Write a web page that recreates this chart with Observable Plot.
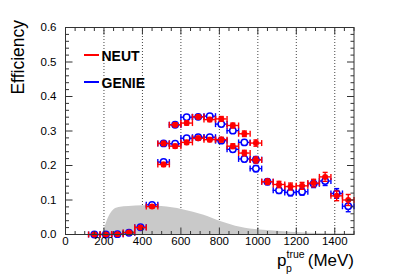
<!DOCTYPE html>
<html><head><meta charset="utf-8">
<script src="https://cdn.jsdelivr.net/npm/d3@7"></script>
<script src="https://cdn.jsdelivr.net/npm/@observablehq/plot@0.6"></script>
<style>
body{margin:0;background:#fff;font-family:"Liberation Sans",Arial,sans-serif}
#chart{width:407px;height:276px}
</style>
</head><body><div id="chart"></div>
<script>
// ---- data ----
const neutX = [150,210,270,330,390,450,510,510,570,570,630,630,690,690,750,750,810,810,870,870,930,930,990,990,1050,1110,1170,1230,1290,1350,1410,1470];
const neutY = [0.000,0.000,0.001,0.006,0.020,0.081,0.264,0.203,0.318,0.256,0.323,0.267,0.341,0.279,0.333,0.275,0.335,0.275,0.316,0.256,0.292,0.236,0.265,0.216,0.153,0.145,0.139,0.141,0.149,0.167,0.112,0.100];
const neutErr = [0.002,0.002,0.002,0.003,0.004,0.005,0.006,0.006,0.006,0.006,0.006,0.006,0.006,0.006,0.006,0.006,0.007,0.007,0.007,0.007,0.008,0.008,0.009,0.009,0.008,0.009,0.010,0.010,0.011,0.013,0.014,0.016];
const genieX = [150,210,270,330,390,450,510,510,570,570,630,630,690,690,750,750,810,810,870,870,930,930,990,990,1050,1110,1170,1230,1290,1350,1410,1470];
const genieY = [0.000,0.000,0.001,0.005,0.021,0.086,0.264,0.210,0.318,0.263,0.340,0.279,0.341,0.282,0.343,0.282,0.320,0.272,0.301,0.247,0.267,0.219,0.217,0.191,0.153,0.128,0.122,0.124,0.147,0.155,0.119,0.082];
const genieErr = [0.002,0.002,0.002,0.003,0.004,0.005,0.006,0.006,0.006,0.006,0.006,0.006,0.006,0.006,0.006,0.006,0.007,0.007,0.007,0.007,0.008,0.008,0.009,0.009,0.008,0.009,0.010,0.010,0.011,0.013,0.014,0.016];
const binHalfWidth = 30;
const fluxX = [185,200,217,243,278,330,400,500,610,720,810,910,1010,1120,1220,1320,1420,1500];
const fluxY = [0,0.012,0.040,0.067,0.078,0.081,0.083,0.081,0.072,0.056,0.037,0.021,0.013,0.009,0.005,0.003,0.002,0.002];
const xTickLabels = [0,200,400,600,800,1000,1200,1400];
const yTickLabels = [0,0.1,0.2,0.3,0.4,0.5,0.6];
const gridX = [200,400,600,800,1000,1200,1400];
const seriesNames = ["NEUT","GENIE"];
const seriesColors = ["#ff0000","#0000ff"];

// ---- build ----
const neut = neutX.map((x,i)=>({x, y:neutY[i], e:neutErr[i]}));
const genie = genieX.map((x,i)=>({x, y:genieY[i], e:genieErr[i]}));
const flux = fluxX.map((x,i)=>({x, y:fluxY[i]}));
const xMinor = d3.range(0,1501,50).filter(v=>v%200!==0);
const yMinor = d3.range(0,31).map(i=>i*0.02).filter((v,i)=>i%5!==0);

const vline = {draw(ctx,size){const h=Math.sqrt(size/Math.PI);ctx.moveTo(0,-h);ctx.lineTo(0,h);}};
const hline = {draw(ctx,size){const h=Math.sqrt(size/Math.PI);ctx.moveTo(-h,0);ctx.lineTo(h,0);}};

function errMarks(data,color){
  const sw=1.4;
  return [
    Plot.ruleY(data,{y:"y",x1:d=>d.x-binHalfWidth,x2:d=>d.x+binHalfWidth,stroke:color,strokeWidth:sw}),
    Plot.ruleX(data,{x:"x",y1:d=>d.y-d.e,y2:d=>d.y+d.e,stroke:color,strokeWidth:sw}),
    Plot.dot(data,{x:d=>d.x-binHalfWidth,y:"y",symbol:vline,r:3,stroke:color,strokeWidth:sw}),
    Plot.dot(data,{x:d=>d.x+binHalfWidth,y:"y",symbol:vline,r:3,stroke:color,strokeWidth:sw}),
    Plot.dot(data,{x:"x",y:d=>d.y+d.e,symbol:hline,r:2.5,stroke:color,strokeWidth:sw}),
    Plot.dot(data,{x:"x",y:d=>d.y-d.e,symbol:hline,r:2.5,stroke:color,strokeWidth:sw})
  ];
}
const axc="#333";
function tickMarks(values,len,which){
  const opt={symbol: which==="x"?vline:hline, r:len/2, stroke:axc, strokeWidth:1};
  if(which==="x") return [
    Plot.dot(values,{...opt,x:d=>d,y:()=>0,dy:-len/2}),
    Plot.dot(values,{...opt,x:d=>d,y:()=>0.6,dy:len/2})
  ];
  return [
    Plot.dot(values,{...opt,y:d=>d,x:()=>0,dx:len/2}),
    Plot.dot(values,{...opt,y:d=>d,x:()=>1500,dx:-len/2})
  ];
}

const plot = Plot.plot({
  width:407, height:276,
  marginLeft:65, marginRight:53.5, marginTop:27, marginBottom:42,
  style:{fontFamily:'"Liberation Sans",Arial,sans-serif',background:"#fff",overflow:"visible"},
  x:{domain:[0,1500]},
  y:{domain:[0,0.6]},
  marks:[
    Plot.ruleX(gridX,{x:d=>d,stroke:"#444",strokeDasharray:"1,2",strokeWidth:1}),
    Plot.areaY(flux,{x:"x",y:"y",fill:"#c9c9c9",curve:"monotone-x"}),
    ...errMarks(genie,seriesColors[1]),
    Plot.dot(genie,{x:"x",y:"y",r:3.2,stroke:seriesColors[1],strokeWidth:1.5,fill:"white"}),
    ...errMarks(neut,seriesColors[0]),
    Plot.dot(neut,{x:"x",y:"y",r:3,fill:seriesColors[0]}),
    Plot.frame({stroke:axc,strokeWidth:1}),
    ...tickMarks(xTickLabels,7,"x"),
    ...tickMarks(xMinor,3.5,"x"),
    ...tickMarks(yTickLabels,7,"y"),
    ...tickMarks(yMinor,3.5,"y"),
    Plot.axisX({ticks:xTickLabels,tickSize:0,tickPadding:2,fontSize:11.5,label:null,tickFormat:d=>String(d),fill:"#000"}),
    Plot.axisY({ticks:yTickLabels,tickSize:0,tickPadding:9,fontSize:11.5,label:null,tickFormat:d=>d.toFixed(1),fill:"#000"})
  ]
});
document.getElementById("chart").appendChild(plot);

// titles and legend
const svg = d3.select(plot);
const ff='"Liberation Sans",Arial,sans-serif';
svg.append("text").attr("transform","translate(24,20) rotate(-90)").attr("text-anchor","end")
  .attr("font-size",17.5).attr("font-family",ff).attr("fill","#000").text("Efficiency");
const xl = svg.append("g").attr("font-family",ff).attr("fill","#000").attr("text-anchor","start");
xl.append("text").attr("x",277).attr("y",266).attr("font-size",17).text("p");
xl.append("text").attr("x",286).attr("y",272).attr("font-size",10.5).text("p");
xl.append("text").attr("x",286.5).attr("y",257.5).attr("font-size",10.5).text("true");
xl.append("text").attr("x",354).attr("y",266).attr("font-size",17).attr("text-anchor","end").text("(MeV)");
const lg = svg.append("g").attr("font-family",ff).attr("text-anchor","start");
[[55,61],[82,88]].forEach(([ly,ty],i)=>{
  lg.append("line").attr("x1",84).attr("x2",99).attr("y1",ly).attr("y2",ly).attr("stroke",seriesColors[i]).attr("stroke-width",2);
  lg.append("text").attr("x",101.5).attr("y",ty).attr("font-size",14).attr("font-weight","bold").attr("fill","#000").text(seriesNames[i]);
});
</script>
</body></html>
